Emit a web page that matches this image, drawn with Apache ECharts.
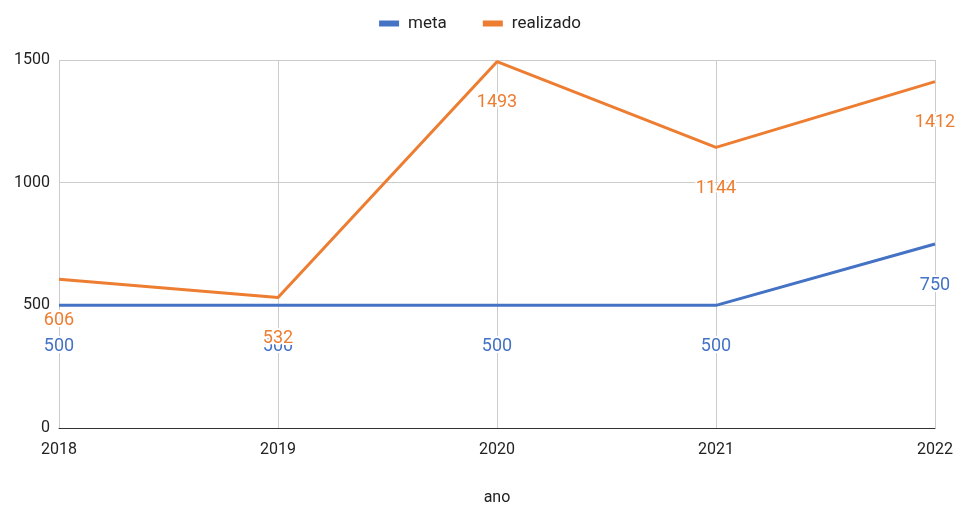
<!DOCTYPE html>
<html><head><meta charset="utf-8">
<script src="https://cdn.jsdelivr.net/npm/echarts@6/dist/echarts.min.js"></script>
<style>html,body{margin:0;padding:0;background:#fff}#c{width:960px;height:507px}</style>
</head><body><div id="c"></div>
<script>
const categories = ['2018','2019','2020','2021','2022'];
const meta = [500,500,500,500,750];
const realizado = [606,532,1493,1144,1412];
const yTicks = [0,500,1000,1500];

const chart = echarts.init(document.getElementById('c'));
const lbl = (color) => ({
  show: true, position: 'inside', offset: [0, 41],
  color: color, fontSize: 18, fontFamily: 'Roboto',
  textBorderColor: '#fff', textBorderWidth: 4
});
chart.setOption({
  animation: false,
  textStyle: {fontFamily: 'Roboto'},
  legend: {
    top: 10, left: 'center', itemWidth: 20, itemHeight: 6, itemGap: 36,
    icon: 'rect', textStyle: {fontSize: 17, color: '#222', padding: [0, 0, 0, 4]},
    data: ['meta','realizado']
  },
  grid: {left: 59, right: 25, top: 60, bottom: 79, containLabel: false, outerBoundsMode: 'none'},
  xAxis: {
    type: 'category', data: categories, boundaryGap: false,
    name: 'ano', nameLocation: 'middle', nameGap: 62,
    nameTextStyle: {fontSize: 16, color: '#222'},
    axisLine: {lineStyle: {color: '#333', width: 1}},
    axisTick: {show: false},
    axisLabel: {fontSize: 16, color: '#222', margin: 14},
    splitLine: {show: true, lineStyle: {color: '#ccc'}}
  },
  yAxis: {
    type: 'value', min: yTicks[0], max: yTicks[yTicks.length-1], interval: 500,
    axisLine: {show: false}, axisTick: {show: false},
    axisLabel: {fontSize: 16, color: '#222', margin: 9, formatter: v => String(v)},
    splitLine: {lineStyle: {color: '#ccc'}}
  },
  series: [
    {name: 'meta', type: 'line', data: meta, showSymbol: true, symbol: 'circle', symbolSize: 0,
     color: '#4472C4', lineStyle: {width: 3}, label: lbl('#4472C4'), z: 2},
    {name: 'realizado', type: 'line', data: realizado, showSymbol: true, symbol: 'circle', symbolSize: 0,
     color: '#ED7D31', lineStyle: {width: 3}, label: lbl('#ED7D31'), z: 3}
  ]
});
</script></body></html>
